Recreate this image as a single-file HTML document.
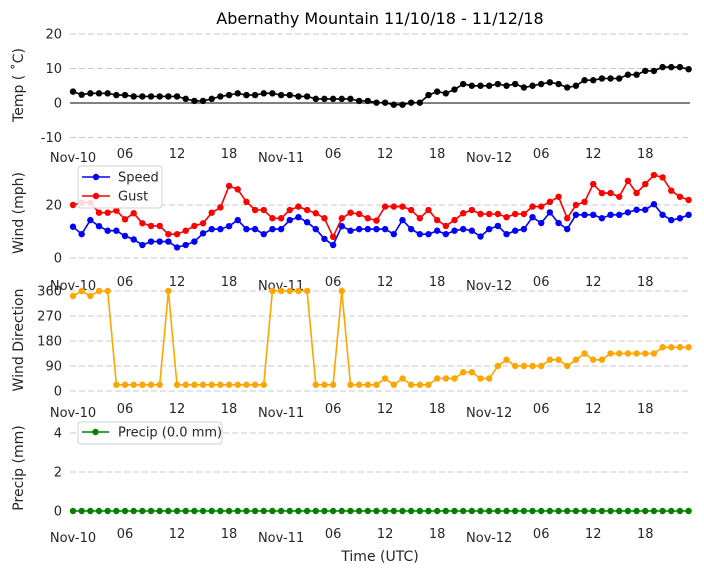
<!DOCTYPE html>
<html><head><meta charset="utf-8"><style>
body{margin:0;background:#fff;}
svg{display:block;font-family:"DejaVu Sans","Liberation Sans",sans-serif;}
</style></head><body>
<svg id="chart" width="704" height="573" viewBox="0 0 704 573" xmlns="http://www.w3.org/2000/svg"></svg>
<script>
const temp=[3.3,2.4,2.8,2.8,2.8,2.3,2.3,1.9,1.9,1.9,1.9,1.9,1.9,1.2,0.6,0.6,1.2,1.9,2.3,2.8,2.3,2.3,2.8,2.8,
2.3,2.3,1.9,1.9,1.2,1.2,1.2,1.2,1.2,0.6,0.6,0.1,0.1,-0.5,-0.5,0.1,0.1,2.3,3.3,2.8,3.9,5.5,5.0,5.0,
5.0,5.5,5.0,5.5,4.5,5.0,5.5,6.0,5.5,4.5,5.0,6.6,6.6,7.1,7.1,7.1,8.2,8.2,9.3,9.3,10.4,10.4,10.4,9.8];
const speed=[11.8,9,14.3,12,10.3,10.3,8.3,7,4.9,6.2,6.2,6.2,4,4.9,6.2,9.3,10.9,10.9,12,14.3,10.9,10.9,9,10.9,
10.9,14.3,15.4,13.5,10.9,7.2,4.9,12,10.3,10.9,10.9,10.9,10.9,9,14.3,10.9,9,9,10.3,9,10.3,10.9,10.3,8.1,
10.9,12.1,9,10.3,10.9,15.4,13.2,17.2,13.2,10.9,16.3,16.3,16.3,15,16.3,16.3,17.2,18.2,18.2,20.3,16.3,14.3,15,16.3];
const gust=[20,20.9,20.9,17.1,17.1,17.9,14.6,16.9,13.1,12.1,12.1,9,9,10.3,12.1,13.1,17.1,19.1,27.2,25.9,21.2,18.1,18.1,15,
15,18.1,19.4,18.1,16.9,15,8,15,17.1,16.6,15,14.1,19.4,19.4,19.4,18.1,15,18.1,14.3,12.1,14.3,16.9,18.1,16.6,
16.6,16.6,15.4,16.6,16.6,19.4,19.4,21.2,23.1,15,20,21.2,27.9,24.5,24.5,23.1,29.1,24.5,27.9,31.3,30.4,25.4,23.1,21.9];
const dir=[342,360,342,360,360,22.5,22.5,22.5,22.5,22.5,22.5,360,22.5,22.5,22.5,22.5,22.5,22.5,22.5,22.5,22.5,22.5,22.5,360,
360,360,360,360,22.5,22.5,22.5,360,22.5,22.5,22.5,22.5,45,22.5,45,22.5,22.5,22.5,45,45,45,67.5,67.5,45,
45,90,112.5,90,90,90,90,112.5,112.5,90,112.5,135,112.5,112.5,135,135,135,135,135,135,157.5,157.5,157.5,157.5];
const precip=new Array(72).fill(0);
const hourTicks=[0,6,12,18,24,30,36,42,48,54,60,66];
const hourLabels=["Nov-10","06","12","18","Nov-11","06","12","18","Nov-12","06","12","18"];

const svg=document.getElementById('chart');
const NS='http://www.w3.org/2000/svg';
function el(t,a,parent){const e=document.createElementNS(NS,t);for(const k in a)e.setAttribute(k,a[k]);(parent||svg).appendChild(e);return e;}
function X(h){return 73+h*(615.6/71);}
function mkY(v0,y0,v1,y1){return v=>y0+(v-v0)*(y1-y0)/(v1-v0);}

function text(s,x,y,opt,name){
  const t=el('text',Object.assign({x:x,y:y,'font-size':13,fill:'#262626','text-anchor':'middle'},opt||{}));
  t.textContent=s;
  
  
  return t;
}
function grid(y,name){
  const l=el('line',{x1:70,x2:690,y1:y,y2:y,stroke:'#c8c8c8','stroke-width':1,'stroke-dasharray':'6,3'});
  
  
}
function series(data,Y,color,name){
  const g=el('g',{});
  
  
  const pts=data.map((v,i)=>X(i).toFixed(1)+','+Y(v).toFixed(1)).join(' ');
  el('polyline',{points:pts,fill:'none',stroke:color,'stroke-width':1.6},g);
  data.forEach((v,i)=>{
    const c=el('circle',{cx:X(i),cy:Y(v),r:3.2,fill:color},g);
    
    
  });
}
function xticks(base,prefix){
  hourTicks.forEach((h,i)=>{
    const isNov=hourLabels[i].startsWith('Nov');
    text(hourLabels[i],X(h),base+(isNov?4:0),{},prefix+'-x-tick');
  });
}
function yticks(vals,Y,prefix){
  vals.forEach(v=>text(String(v),62,Y(v)+4.5,{'text-anchor':'end'},prefix+'-y-tick'));
}
function ylabel(s,y,name){
  const t=text(s,23,y,{transform:'rotate(-90 23 '+y+')','font-size':14},name);
}

// Title
text('Abernathy Mountain 11/10/18 - 11/12/18',380,24,{'font-size':16,fill:'#000'},'chart-title');

// Temp panel
const YT=mkY(0,103,20,34);
[20,10,-10].forEach(v=>grid(YT(v),'temp-grid'));
const zl=el('line',{x1:70,x2:690,y1:YT(0),y2:YT(0),stroke:'#000','stroke-width':1});


yticks([20,10,0,-10],YT,'temp');
series(temp,YT,'#000','temp-series');
xticks(158,'temp');
ylabel('Temp ( ˚C)',85,'temp-y-axis-title');

// Wind panel
const YW=mkY(0,258,20,205);
[20,0].forEach(v=>grid(YW(v),'wind-grid'));
yticks([20,0],YW,'wind');
series(speed,YW,'#0000ff','speed-series');
series(gust,YW,'#ff0000','gust-series');
xticks(286,'wind');
ylabel('Wind (mph)',213,'wind-y-axis-title');
const lg=el('g',{});


el('rect',{x:78,y:166,width:84,height:42,rx:3,fill:'#fff','fill-opacity':0.85,stroke:'#d0d0d0'},lg);
el('line',{x1:82,x2:110,y1:177,y2:177,stroke:'#0000ff','stroke-width':1.6},lg);
el('circle',{cx:96,cy:177,r:3.2,fill:'#0000ff'},lg);
el('line',{x1:82,x2:110,y1:196,y2:196,stroke:'#ff0000','stroke-width':1.6},lg);
el('circle',{cx:96,cy:196,r:3.2,fill:'#ff0000'},lg);
text('Speed',118,181.5,{'text-anchor':'start'},'legend-speed');
text('Gust',118,200.5,{'text-anchor':'start'},'legend-gust');

// Direction panel
const YD=mkY(0,391,360,291);
[360,270,180,90,0].forEach(v=>grid(YD(v),'dir-grid'));
yticks([360,270,180,90,0],YD,'dir');
series(dir,YD,'#ffa500','direction-series');
xticks(413,'dir');
ylabel('Wind Direction',340,'dir-y-axis-title');

// Precip panel
const YP=mkY(0,511,4,433);
[4,2].forEach(v=>grid(YP(v),'precip-grid'));
yticks([4,2,0],YP,'precip');
series(precip,YP,'#008000','precip-series');
xticks(538,'precip');
ylabel('Precip (mm)',468,'precip-y-axis-title');
const lp=el('g',{});


el('rect',{x:78,y:422,width:144,height:22,rx:3,fill:'#fff','fill-opacity':0.85,stroke:'#d0d0d0'},lp);
el('line',{x1:82,x2:109,y1:432,y2:432,stroke:'#008000','stroke-width':1.6},lp);
el('circle',{cx:95.5,cy:432,r:3.2,fill:'#008000'},lp);
text('Precip (0.0 mm)',118,436.5,{'text-anchor':'start'},'legend-precip');

text('Time (UTC)',380,561,{'font-size':14},'x-axis-title');
</script>
</body></html>
